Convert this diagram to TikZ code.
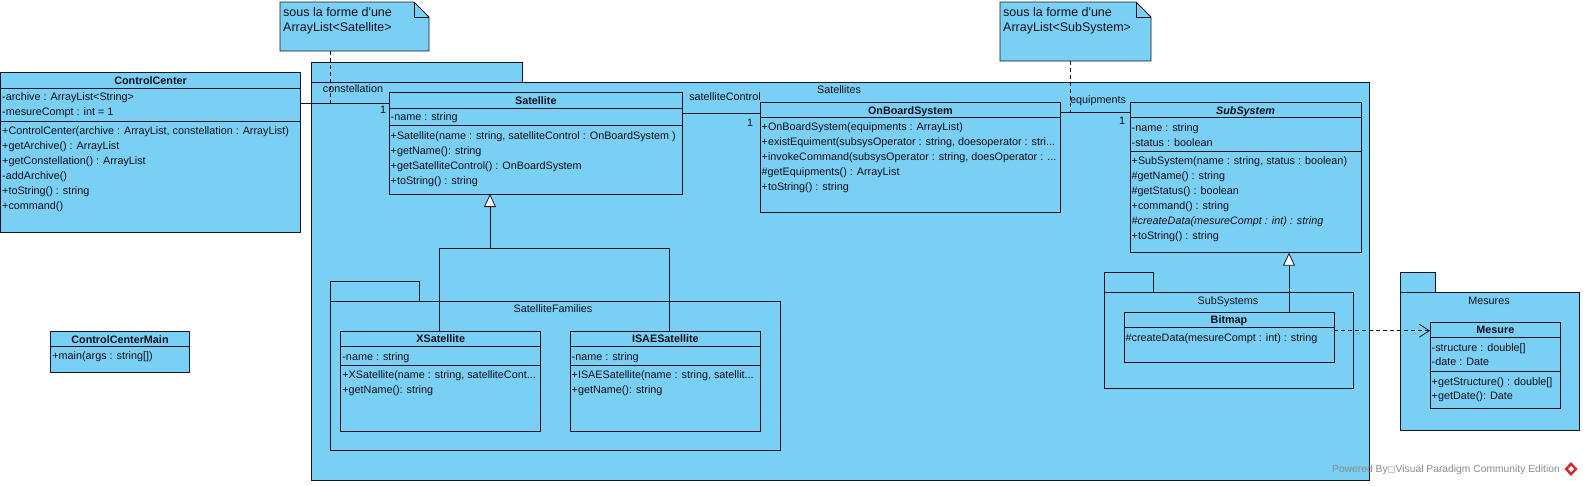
\documentclass[tikz,border=0pt]{standalone}
\usepackage{fontspec}
\setmainfont{Liberation Sans}
\newfontfamily\symfont{DejaVu Sans}
\usetikzlibrary{arrows.meta}
\definecolor{vpblue}{RGB}{122,207,245}
\definecolor{vpline}{RGB}{20,20,35}
\definecolor{vptext}{RGB}{15,15,25}
\definecolor{vpgray}{RGB}{140,140,140}
\definecolor{vpred}{RGB}{205,45,45}
\tikzset{
  umlbox/.style={draw=vpline,fill=vpblue,line width=0.8pt,inner sep=0pt,outer sep=0pt,anchor=north west},
  notebox/.style={inner sep=0pt,outer sep=0pt,anchor=north west},
  notefill/.style={draw=vpline,fill=vpblue,line width=0.8pt},
  row/.style={anchor=west,inner sep=0pt,yshift=-1.2pt,text height=7.5pt,text depth=2pt,text=vptext,font=\fontsize{10.8}{13}\selectfont},
  head/.style={row,anchor=center,font=\fontsize{10.8}{13}\selectfont\bfseries},
  lbl/.style={row,anchor=center},
  notetext/.style={row,font=\fontsize{12.5}{15}\selectfont},
  sep/.style={draw=vpline,line width=0.8pt},
  assoc/.style={draw=vpline,line width=0.8pt},
  generalize/.style={draw=vpline,line width=0.8pt,-{Triangle[width=12pt,length=13pt,fill=white]}},
  depend/.style={draw=vpline,line width=0.8pt,dash pattern=on 4pt off 3pt,-{Straight Barb[width=13pt,length=10pt]}},
  noteline/.style={draw=vpline,line width=0.8pt,dash pattern=on 4pt off 3pt},
}

\begin{document}
\begin{tikzpicture}[x=1pt,y=-1pt]
\fill[white] (0,0) rectangle (1583,485);
\useasboundingbox (0,0) rectangle (1583,485);

% packages
\node[umlbox,minimum width=211,minimum height=20] (satpkgtab) at (311,62) {};
\node[umlbox,minimum width=1058,minimum height=398] (satpkg) at (311,82) {};
\node[lbl] (satpkglbl) at (839,90) {Satellites};
\node[umlbox,minimum width=89,minimum height=20] (fampkgtab) at (330,281.7) {};
\node[umlbox,minimum width=450,minimum height=148.3] (fampkg) at (330,301.7) {};
\node[lbl] (fampkglbl) at (553,309) {SatelliteFamilies};
\node[umlbox,minimum width=49,minimum height=20] (subpkgtab) at (1104,272) {};
\node[umlbox,minimum width=249,minimum height=96] (subpkg) at (1104,292) {};
\node[lbl] (subpkglbl) at (1228,300.7) {SubSystems};
\node[umlbox,minimum width=35,minimum height=20] (mespkgtab) at (1400.7,272.3) {};
\node[umlbox,minimum width=178.3,minimum height=137.7] (mespkg) at (1400.7,292.3) {};
\node[lbl] (mespkglbl) at (1489,300.7) {Mesures};

% notes
\node[notebox,minimum width=149,minimum height=49] (note1) at (280,2) {};
\draw[notefill] (note1.north west) -- ([xshift=-15pt]note1.north east) -- ([yshift=-15pt]note1.north east) -- (note1.south east) -- (note1.south west) -- cycle;
\draw[sep] ([xshift=-15pt]note1.north east) |- ([yshift=-15pt]note1.north east);
\node[notetext] (note1a) at (283,13) {sous la forme d\textquotesingle une};
\node[notetext] (note1b) at (283,28) {ArrayList<Satellite>};
\node[notebox,minimum width=151,minimum height=59] (note2) at (1000,2) {};
\draw[notefill] (note2.north west) -- ([xshift=-15pt]note2.north east) -- ([yshift=-15pt]note2.north east) -- (note2.south east) -- (note2.south west) -- cycle;
\draw[sep] ([xshift=-15pt]note2.north east) |- ([yshift=-15pt]note2.north east);
\node[notetext] (note2a) at (1003,13) {sous la forme d\textquotesingle une};
\node[notetext] (note2b) at (1003,28) {ArrayList<SubSystem>};

% ControlCenter
\node[umlbox,minimum width=300.2,minimum height=159.3] (cc) at (0.5,72.7) {};
\node[head] (cct) at ([yshift=-7.8pt]cc.north) {ControlCenter};
\draw[sep] (cc.west |- 0,88) -- (cc.east |- 0,88);
\draw[sep] (cc.west |- 0,121) -- (cc.east |- 0,121);
\node[row] (cc1) at (2,96.7) {-archive : ArrayList<String>};
\node[row] (cc2) at (2,112) {-mesureCompt : int = 1};
\node[row] (cc3) at (2,131) {+ControlCenter(archive : ArrayList, constellation : ArrayList)};
\node[row] (cc4) at (2,146) {+getArchive() : ArrayList};
\node[row] (cc5) at (2,161) {+getConstellation() : ArrayList};
\node[row] (cc6) at (2,176) {-addArchive()};
\node[row] (cc7) at (2,191) {+toString() : string};
\node[row] (cc8) at (2,206) {+command()};

% ControlCenterMain
\node[umlbox,minimum width=138.6,minimum height=40.3] (ccm) at (50.7,331.7) {};
\node[head] (ccmt) at ([yshift=-7.6pt]ccm.north) {ControlCenterMain};
\draw[sep] (ccm.west |- 0,346.7) -- (ccm.east |- 0,346.7);
\node[row] (ccm1) at (52.2,355.7) {+main(args : string[])};

% Satellite
\node[umlbox,minimum width=293.7,minimum height=101.3] (sat) at (389,92.7) {};
\node[head] (satt) at ([yshift=-7.8pt]sat.north) {Satellite};
\draw[sep] (sat.west |- 0,108) -- (sat.east |- 0,108);
\draw[sep] (sat.west |- 0,125.7) -- (sat.east |- 0,125.7);
\node[row] (sat1) at (390.5,117) {-name : string};
\node[row] (sat2) at (390.5,136) {+Satellite(name : string, satelliteControl : OnBoardSystem )};
\node[row] (sat3) at (390.5,151) {+getName(): string};
\node[row] (sat4) at (390.5,166) {+getSatelliteControl() : OnBoardSystem};
\node[row] (sat5) at (390.5,181) {+toString() : string};

% OnBoardSystem
\node[umlbox,minimum width=300.7,minimum height=109.3] (obs) at (760,102.7) {};
\node[head] (obst) at ([yshift=-7.6pt]obs.north) {OnBoardSystem};
\draw[sep] (obs.west |- 0,117.7) -- (obs.east |- 0,117.7);
\node[row] (obs1) at (761.5,126.5) {+OnBoardSystem(equipments : ArrayList)};
\node[row] (obs2) at (761.5,141.5) {+existEquiment(subsysOperator : string, doesoperator : stri...};
\node[row] (obs3) at (761.5,156.5) {+invokeCommand(subsysOperator : string, doesOperator : ...};
\node[row] (obs4) at (761.5,171.5) {\#getEquipments() : ArrayList};
\node[row] (obs5) at (761.5,186.5) {+toString() : string};

% SubSystem
\node[umlbox,minimum width=231,minimum height=150] (sub) at (1130,102.7) {};
\node[head] (subt) at ([yshift=-7.4pt]sub.north) {\itshape SubSystem};
\draw[sep] (sub.west |- 0,117.3) -- (sub.east |- 0,117.3);
\draw[sep] (sub.west |- 0,151) -- (sub.east |- 0,151);
\node[row] (sub1) at (1131.5,127.3) {-name : string};
\node[row] (sub2) at (1131.5,142.3) {-status : boolean};
\node[row] (sub3) at (1131.5,161) {+SubSystem(name : string, status : boolean)};
\node[row] (sub4) at (1131.5,176) {\#getName() : string};
\node[row] (sub5) at (1131.5,191) {\#getStatus() : boolean};
\node[row] (sub6) at (1131.5,206) {+command() : string};
\node[row] (sub7) at (1131.5,221) {\itshape\#createData(mesureCompt : int) : string};
\node[row] (sub8) at (1131.5,236) {+toString() : string};

% XSatellite / ISAESatellite
\node[umlbox,minimum width=200,minimum height=100.7] (xs) at (340.7,331) {};
\node[head] (xst) at ([yshift=-7.8pt]xs.north) {XSatellite};
\draw[sep] (xs.west |- 0,346.7) -- (xs.east |- 0,346.7);
\draw[sep] (xs.west |- 0,365) -- (xs.east |- 0,365);
\node[row] (xs1) at (342.2,356.7) {-name : string};
\node[row] (xs2) at (342.2,375) {+XSatellite(name : string, satelliteCont...};
\node[row] (xs3) at (342.2,390) {+getName(): string};
\node[umlbox,minimum width=190.7,minimum height=100.7] (isae) at (570,331) {};
\node[head] (isaet) at ([yshift=-7.8pt]isae.north) {ISAESatellite};
\draw[sep] (isae.west |- 0,346.7) -- (isae.east |- 0,346.7);
\draw[sep] (isae.west |- 0,365) -- (isae.east |- 0,365);
\node[row] (isae1) at (571.5,356.7) {-name : string};
\node[row] (isae2) at (571.5,375) {+ISAESatellite(name : string, satellit...};
\node[row] (isae3) at (571.5,390) {+getName(): string};

% Bitmap
\node[umlbox,minimum width=210,minimum height=50] (bm) at (1124,312) {};
\node[head] (bmt) at ([yshift=-7.8pt]bm.north) {Bitmap};
\draw[sep] (bm.west |- 0,327.7) -- (bm.east |- 0,327.7);
\node[row] (bm1) at (1125.5,337.7) {\#createData(mesureCompt : int) : string};

% Mesure
\node[umlbox,minimum width=130.7,minimum height=86] (mes) at (1430,322.3) {};
\node[head] (mest) at ([yshift=-7.7pt]mes.north) {Mesure};
\draw[sep] (mes.west |- 0,337.7) -- (mes.east |- 0,337.7);
\draw[sep] (mes.west |- 0,371) -- (mes.east |- 0,371);
\node[row] (mes1) at (1431.5,347.3) {-structure : double[]};
\node[row] (mes2) at (1431.5,362) {-date : Date};
\node[row] (mes3) at (1431.5,381.7) {+getStructure() : double[]};
\node[row] (mes4) at (1431.5,396) {+getDate(): Date};

% associations
\coordinate (constmid) at (330,103);
\coordinate (ctrlmid) at (720,113);
\coordinate (equipmid) at (1070,112.7);
\draw[assoc] (cc.east |- constmid) -- (sat.west |- constmid);
\node[lbl] (constlbl) at (353,89) {constellation};
\node[lbl] (constmul) at (383,110) {1};
\draw[assoc] (sat.east |- ctrlmid) -- (obs.west |- ctrlmid);
\node[lbl] (ctrllbl) at (725,97) {satelliteControl};
\node[lbl] (ctrlmul) at (750,122.7) {1};
\draw[assoc] (obs.east |- equipmid) -- (sub.west |- equipmid);
\node[lbl] (equiplbl) at (1098,100) {equipments};
\node[lbl] (equipmul) at (1122,121) {1};

% note links
\draw[noteline] (note1.south -| constmid) -- (constmid);
\draw[noteline] (note2.south -| equipmid) -- (equipmid);

% generalizations
\coordinate (satgen) at (490,248);
\coordinate (ssgen) at (1289,280);
\draw[assoc] (isae.north -| 669,0) |- (satgen);
\draw[generalize] (xs.north -| 439,0) |- (satgen) -- (satgen |- sat.south);
\draw[generalize] (bm.north -| ssgen) -- (ssgen |- sub.south);

% dependency
\coordinate (depmid) at (1380,330.7);
\draw[depend] (bm.east |- depmid) -- (mes.west |- depmid);

% watermark
\node[row,anchor=east,text=vpgray,font=\fontsize{10.3}{12}\selectfont] (wm) at (1560,469) {Powered By{\symfont\fontsize{8.5}{10}\selectfont □}Visual Paradigm Community Edition};
\fill[vpred] (1571,462) -- (1577.5,469) -- (1571,476) -- (1564.5,469) -- cycle;
\fill[white] (1571,466) -- (1574,469) -- (1571,472) -- (1568,469) -- cycle;
\end{tikzpicture}
\end{document}
